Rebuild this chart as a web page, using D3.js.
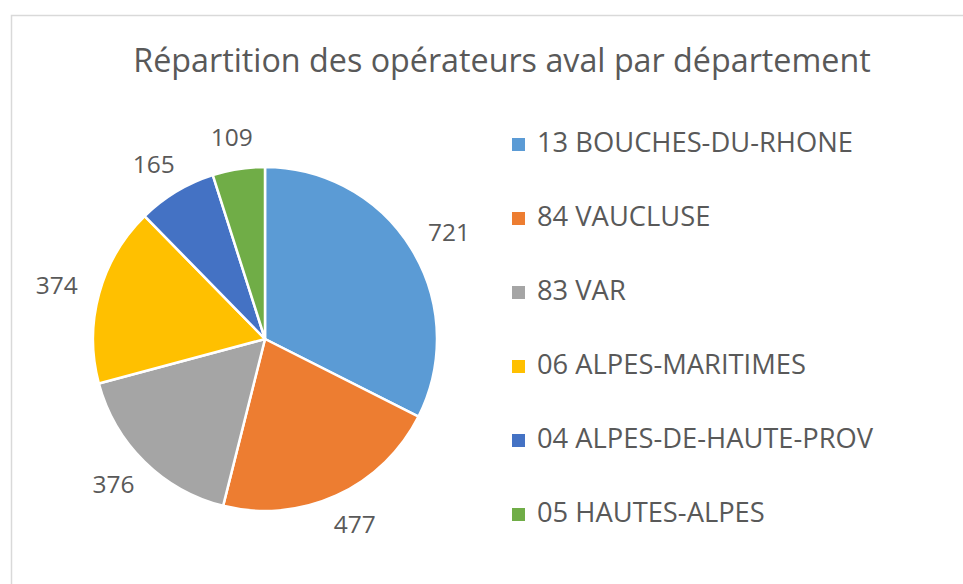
<!DOCTYPE html>
<html>
<head>
	<meta charset="utf-8">
	<title>Répartition des opérateurs aval</title>
	<script src="https://d3js.org/d3.v7.min.js"></script>
	<style>
	body { margin: 0; background: #fff; }
	text { font-family: "Open Sans", "Noto Sans", sans-serif; fill: #595959; }
	</style>
</head>
<body>
<script type="text/javascript">

	// data
	var departements = ["13 BOUCHES-DU-RHONE", "84 VAUCLUSE", "83 VAR", "06 ALPES-MARITIMES", "04 ALPES-DE-HAUTE-PROV", "05 HAUTES-ALPES"]
	var operateurs = [721, 477, 376, 374, 165, 109]
	var couleurs = ["#5B9BD5", "#ED7D31", "#A5A5A5", "#FFC000", "#4472C4", "#70AD47"]
	var titre = "Répartition des opérateurs aval par département"

	var width = 963
	var height = 584

	var svg = d3.select("body")
				.append("svg")
				.attr("width", width)
				.attr("height", height)

	// chart frame
	svg.append("rect")
		.attr("x", 11.5)
		.attr("y", 15.5)
		.attr("width", width)
		.attr("height", height)
		.attr("fill", "none")
		.attr("stroke", "#d9d9d9")
		.attr("stroke-width", 1.5)

	// shrink/grow a text so it fits a given width
	function fitText(sel, target) {
		sel.style("font-size", "100px")
		var w = sel.node().getComputedTextLength()
		sel.style("font-size", (100 * target / w) + "px")
	}

	var title = svg.append("text")
		.attr("x", 502)
		.attr("y", 72)
		.attr("text-anchor", "middle")
		.text(titre)
	fitText(title, 738)

	var color = d3.scaleOrdinal().domain(departements).range(couleurs)

	var data = departements.map(function(d, i) { return {dep: d, value: operateurs[i]} })

	var cx = 265, cy = 339, radius = 172

	var pie = d3.pie().sort(null).value(function(d) { return d.value })
	var arc = d3.arc().innerRadius(0).outerRadius(radius)

	var g = svg.append("g").attr("transform", "translate(" + cx + "," + cy + ")")
	var arcs = pie(data)

	g.selectAll("path")
		.data(arcs)
		.enter().append("path")
		.attr("d", arc)
		.attr("fill", function(d) { return color(d.data.dep) })
		.attr("stroke", "#fff")
		.attr("stroke-width", 2.5)
		.attr("stroke-linejoin", "round")

	// data labels, placed just outside the slice end
	var labelSize = 24.5
	var gap = 23
	g.selectAll(".lbl")
		.data(arcs)
		.enter().append("text")
		.attr("class", "lbl")
		.attr("text-anchor", "middle")
		.style("font-size", labelSize + "px")
		.text(function(d) { return d.data.value })
		.each(function(d) {
			var a = (d.startAngle + d.endAngle) / 2
			var w = this.getComputedTextLength()
			var h = labelSize * 0.72
			var x = Math.sin(a) * (radius + gap) + Math.sin(a) * w / 2
			var y = -Math.cos(a) * (radius + gap) - Math.cos(a) * h / 2
			d3.select(this).attr("x", x).attr("y", y + h / 2)
		})

	// legend
	var ly = d3.scalePoint().domain(departements).range([152, 522])

	var legend = svg.append("g")
		.selectAll("g")
		.data(departements)
		.enter().append("g")
		.attr("transform", function(d) { return "translate(512," + ly(d) + ")" })

	legend.append("rect")
		.attr("x", 0)
		.attr("y", -14)
		.attr("width", 13)
		.attr("height", 13)
		.attr("fill", function(d) { return color(d) })

	var legendText = legend.append("text")
		.attr("x", 25)
		.attr("y", 0)
		.text(function(d) { return d })

	// size from the first entry's width
	var first = d3.select(legendText.nodes()[0])
	fitText(first, 316)
	legendText.style("font-size", first.style("font-size"))

</script>
</body>
</html>
